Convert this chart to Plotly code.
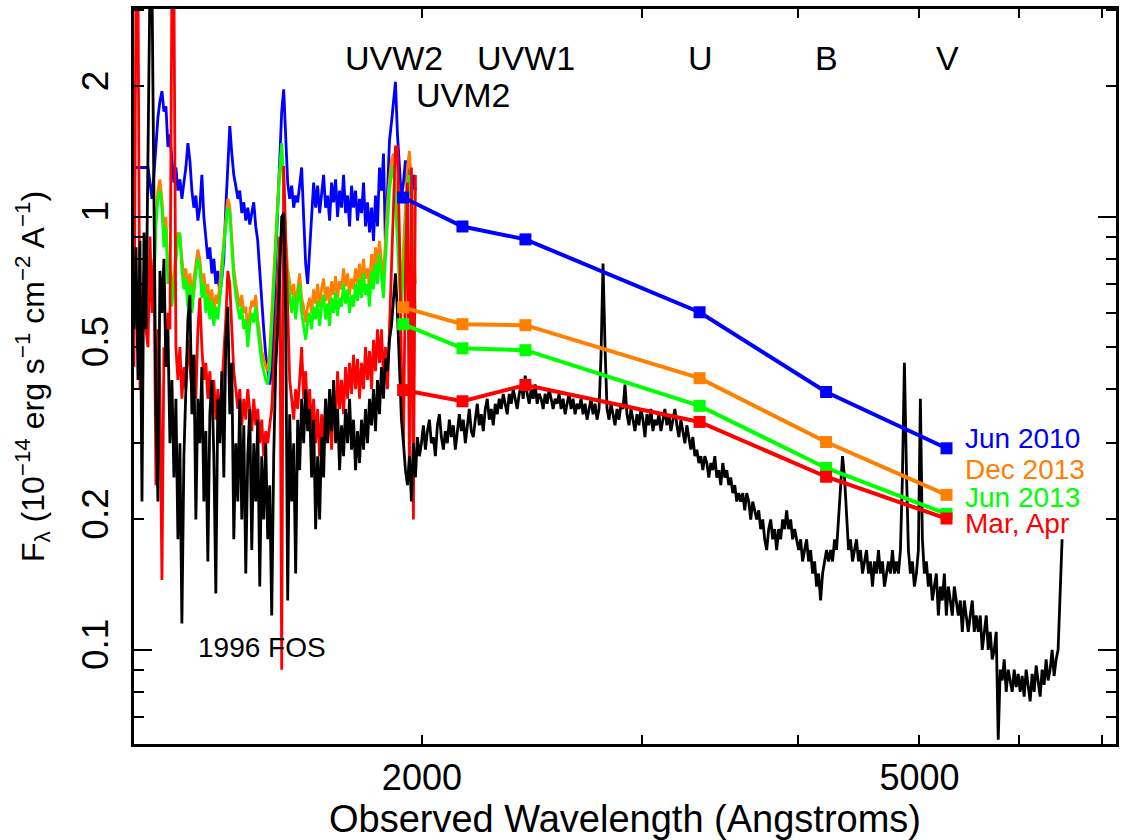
import math
import plotly.graph_objects as go

# ---------------- data ----------------
# Swift/UVOT filter effective wavelengths (Angstrom) and names
filter_names = ["UVW2", "UVM2", "UVW1", "U", "B", "V"]
filter_wave = [1932, 2155, 2420, 3335, 4210, 5255]

# UVOT photometry per epoch (1e-14 erg/s/cm2/A)
phot_jun2010 = [1.108, 0.950, 0.887, 0.602, 0.394, 0.292]
phot_dec2013 = [0.618, 0.565, 0.562, 0.424, 0.302, 0.228]
phot_jun2013 = [0.565, 0.497, 0.492, 0.366, 0.263, 0.206]
phot_marapr = [0.398, 0.375, 0.409, 0.336, 0.251, 0.201]

epoch_labels = ["Jun 2010", "Dec 2013", "Jun 2013", "Mar, Apr"]
epoch_colors = ["#0000ff", "#ff8000", "#00ff00", "#ff0000"]

# Spectra are stored as (first wavelength, flux samples) on a common
# logarithmic dispersion grid.
LOG_STEP = 0.0015962  # dex per sample

# 1996 HST/FOS spectrum, starting at 1177 A
fos_start = 1177
fos_flux = [
    0.55, 0.85, 0.42, 0.88, 0.22, 0.92, 0.55, 1.6, 3.5, 3.5,
    1.1, 0.35, 0.22, 0.75, 0.60, 0.80, 0.45, 0.55, 0.30, 0.42,
    0.25, 0.38, 0.18, 0.30, 0.115, 0.28, 0.40, 0.58, 0.66, 0.35,
    0.48, 0.20, 0.38, 0.30, 0.45, 0.22, 0.32, 0.16, 0.35, 0.42,
    0.28, 0.135, 0.38, 0.30, 0.44, 0.25, 0.52, 0.62, 0.35, 0.46,
    0.18, 0.30, 0.22, 0.38, 0.20, 0.33, 0.15, 0.28, 0.36, 0.17,
    0.30, 0.22, 0.34, 0.14, 0.28, 0.20, 0.30, 0.18, 0.24, 0.12,
    0.28, 0.45, 0.55, 0.75, 1.00, 1.02, 0.60, 0.13, 0.35, 0.22,
    0.30, 0.15, 0.34, 0.26, 0.38, 0.30, 0.40, 0.32, 0.36, 0.25,
    0.34, 0.19, 0.28, 0.20, 0.31, 0.25, 0.38, 0.30, 0.40, 0.32,
    0.42, 0.30, 0.36, 0.26, 0.33, 0.28, 0.36, 0.30, 0.38, 0.29,
    0.34, 0.26, 0.32, 0.27, 0.34, 0.29, 0.36, 0.30, 0.38, 0.33,
    0.40, 0.32, 0.42, 0.35, 0.45, 0.38, 0.47, 0.44, 0.52, 0.56,
    0.64, 0.74, 0.60, 0.45, 0.34, 0.30, 0.26, 0.24, 0.28, 0.22,
    0.30, 0.25, 0.31, 0.28,
    # optical part
    0.30, 0.33, 0.29, 0.32, 0.34, 0.30, 0.31, 0.28, 0.33, 0.35, 0.31, 0.29, 0.32, 0.30, 0.34, 0.31, 0.33, 0.29, 0.32, 0.35,
    0.32, 0.34, 0.30, 0.33, 0.36, 0.32, 0.31, 0.34, 0.37, 0.33, 0.35, 0.32, 0.36, 0.38, 0.34, 0.36, 0.33, 0.37, 0.35, 0.38,
    0.36, 0.39, 0.37, 0.35, 0.39, 0.37, 0.40, 0.38, 0.36, 0.39, 0.41, 0.38, 0.43, 0.39, 0.37, 0.40, 0.38, 0.41, 0.37, 0.39,
    0.38, 0.36, 0.39, 0.37, 0.40, 0.38, 0.36, 0.38, 0.37, 0.39, 0.36, 0.38, 0.35, 0.37, 0.39, 0.36, 0.38, 0.35, 0.37, 0.36,
    0.38, 0.35, 0.37, 0.34, 0.36, 0.38, 0.35, 0.37, 0.34, 0.36, 0.48, 0.78, 0.50, 0.36, 0.34, 0.37, 0.35, 0.33, 0.36, 0.34,
    0.37, 0.36, 0.41, 0.35, 0.33, 0.36, 0.34, 0.32, 0.35, 0.33, 0.36, 0.34, 0.31, 0.35, 0.33, 0.36, 0.32, 0.34, 0.33, 0.35,
    0.32, 0.34, 0.36, 0.33, 0.35, 0.32, 0.34, 0.36, 0.33, 0.31, 0.34, 0.32, 0.30, 0.33, 0.31, 0.29, 0.31, 0.28, 0.29, 0.27,
    0.28, 0.26, 0.28, 0.27, 0.25, 0.27, 0.26, 0.28, 0.25, 0.26, 0.24, 0.27, 0.25, 0.26, 0.24, 0.25, 0.23, 0.24, 0.22, 0.23,
    0.22, 0.23, 0.21, 0.23, 0.22, 0.20, 0.22, 0.21, 0.20, 0.21, 0.19, 0.20, 0.18, 0.17, 0.19, 0.20, 0.18, 0.19, 0.17, 0.19,
    0.18, 0.20, 0.19, 0.21, 0.19, 0.20, 0.18, 0.19, 0.18, 0.17, 0.18, 0.16, 0.17, 0.18, 0.16, 0.17, 0.15, 0.16, 0.14, 0.15,
    0.13, 0.15, 0.16, 0.17, 0.16, 0.17, 0.16, 0.18, 0.17, 0.20, 0.24, 0.28, 0.25, 0.20, 0.17, 0.18, 0.16, 0.17, 0.18, 0.16,
    0.17, 0.15, 0.16, 0.17, 0.15, 0.16, 0.14, 0.16, 0.15, 0.17, 0.15, 0.16, 0.14, 0.15, 0.16, 0.15, 0.17, 0.15, 0.16, 0.15,
    0.17, 0.25, 0.46, 0.26, 0.17, 0.15, 0.16, 0.14, 0.15, 0.17, 0.38, 0.18, 0.15, 0.16, 0.14, 0.15, 0.13, 0.14, 0.15, 0.12,
    0.14, 0.13, 0.15, 0.12, 0.14, 0.13, 0.12, 0.14, 0.13, 0.12, 0.13, 0.11, 0.13, 0.12, 0.11, 0.12, 0.13, 0.11, 0.12, 0.11,
    0.12, 0.10, 0.11, 0.12, 0.10, 0.11, 0.095, 0.10, 0.11, 0.062, 0.09, 0.085, 0.095, 0.08, 0.09, 0.085, 0.08, 0.09, 0.082, 0.088,
    0.08, 0.087, 0.078, 0.09, 0.082, 0.076, 0.088, 0.08, 0.092, 0.084, 0.078, 0.09, 0.083, 0.095, 0.085, 0.09, 0.10, 0.087, 0.095, 0.10,
    0.14, 0.18,
]

# Swift UV grism spectra per epoch
jun2010_start = 1177
jun2010_flux = [
    1.30, 1.30, 1.30, 1.30, 1.30, 1.30, 1.30, 1.30, 1.20, 1.10,
    1.25, 1.45, 1.70, 1.85, 1.95, 1.75, 1.80, 1.45, 1.55, 1.35,
    1.20, 1.30, 1.15, 1.22, 1.10, 1.20, 1.30, 1.48, 1.35, 1.15,
    1.05, 1.12, 0.98, 1.05, 1.25, 1.00, 0.88, 0.80, 0.85, 0.74,
    0.80, 0.70, 0.75, 0.66, 0.72, 0.80, 1.05, 1.35, 1.62, 1.40,
    1.25, 1.18, 1.10, 1.15, 1.02, 1.08, 0.98, 1.05, 0.96, 1.02,
    1.08, 0.95, 0.88, 0.75, 0.62, 0.55, 0.48, 0.44, 0.41, 0.44,
    0.55, 0.80, 1.05, 1.35, 1.75, 1.97, 1.50, 1.20, 1.10, 1.18,
    1.05, 1.12, 1.08, 1.20, 1.30, 1.00, 0.78, 0.70, 0.85, 1.05,
    1.20, 1.05, 1.18, 1.02, 1.15, 1.25, 1.05, 1.12, 0.98, 1.20,
    1.08, 1.22, 1.00, 1.15, 1.05, 1.25, 1.02, 1.12, 0.95, 1.18,
    1.05, 1.15, 0.98, 1.10, 1.02, 1.20, 0.95, 1.08, 0.92, 1.05,
    0.88, 1.12, 0.95, 1.30, 1.15, 1.40, 0.85, 1.10, 1.50, 1.65,
    1.85, 2.05, 1.55, 1.30, 1.10, 1.20, 1.35, 1.15, 1.30, 1.10,
    1.25, 1.15,
]

dec2013_start = 1221
dec2013_flux = [
    0.75, 1.00, 1.15, 1.22, 1.10, 0.92, 1.00, 0.76, 0.78, 0.68,
    0.74, 0.84, 0.92, 0.90, 0.80, 0.72, 0.76, 0.68, 0.74, 0.66,
    0.72, 0.78, 0.84, 0.80, 0.70, 0.74, 0.66, 0.70, 0.63, 0.68,
    0.60, 0.66, 0.63, 0.70, 0.78, 0.90, 1.00, 1.10, 1.06, 0.90,
    0.76, 0.70, 0.66, 0.62, 0.66, 0.60, 0.62, 0.55, 0.60, 0.64,
    0.62, 0.66, 0.58, 0.54, 0.49, 0.47, 0.45, 0.44, 0.49, 0.60,
    0.74, 0.90, 1.10, 1.28, 1.45, 1.15, 0.88, 0.76, 0.70, 0.66,
    0.70, 0.63, 0.68, 0.74, 0.65, 0.62, 0.57, 0.62, 0.65, 0.60,
    0.68, 0.63, 0.70, 0.62, 0.68, 0.72, 0.64, 0.69, 0.62, 0.71,
    0.66, 0.73, 0.65, 0.71, 0.68, 0.76, 0.69, 0.74, 0.66, 0.72,
    0.68, 0.76, 0.70, 0.78, 0.71, 0.80, 0.72, 0.76, 0.68, 0.82,
    0.74, 0.85, 0.77, 0.88, 0.79, 0.72, 0.88, 1.08, 1.22, 1.35,
    1.40, 1.18, 0.92, 0.76, 0.68, 0.82, 1.05, 1.30, 1.42, 1.20,
    0.90, 0.70,
]

jun2013_start = 1221
jun2013_flux = [
    0.70, 0.95, 1.10, 1.15, 1.05, 0.85, 0.95, 0.70, 0.75, 0.62,
    0.70, 0.80, 0.88, 0.92, 0.75, 0.68, 0.72, 0.62, 0.70, 0.60,
    0.68, 0.74, 0.80, 0.76, 0.65, 0.70, 0.60, 0.66, 0.58, 0.64,
    0.56, 0.62, 0.58, 0.65, 0.72, 0.85, 0.95, 1.05, 1.02, 0.85,
    0.72, 0.66, 0.62, 0.58, 0.62, 0.55, 0.58, 0.50, 0.56, 0.60,
    0.57, 0.62, 0.55, 0.50, 0.46, 0.44, 0.42, 0.41, 0.45, 0.55,
    0.70, 0.85, 1.05, 1.25, 1.48, 1.20, 0.85, 0.72, 0.65, 0.60,
    0.66, 0.58, 0.64, 0.70, 0.60, 0.56, 0.52, 0.57, 0.60, 0.55,
    0.62, 0.58, 0.64, 0.56, 0.62, 0.66, 0.58, 0.63, 0.56, 0.65,
    0.60, 0.67, 0.59, 0.65, 0.62, 0.70, 0.63, 0.68, 0.60, 0.66,
    0.62, 0.70, 0.64, 0.72, 0.65, 0.74, 0.66, 0.70, 0.62, 0.75,
    0.68, 0.78, 0.70, 0.82, 0.72, 0.65, 0.80, 1.00, 1.15, 1.25,
    1.32, 1.10, 0.85, 0.70, 0.62, 0.75, 0.95, 1.15, 1.25, 1.05,
    0.80, 0.60,
]

marapr_start = 1177
marapr_flux = [
    0.45, 3.50, 3.50, 0.40, 0.62, 0.75, 0.55, 0.50, 0.90, 0.60,
    0.80, 0.24, 0.55, 0.40, 0.145, 0.50, 0.45, 0.60, 0.55, 3.50,
    3.50, 0.50, 0.42, 0.50, 0.38, 0.45, 0.40, 0.52, 0.45, 0.40,
    0.48, 0.38, 0.55, 0.65, 0.50, 0.42, 0.46, 0.38, 0.44, 0.36,
    0.42, 0.34, 0.40, 0.35, 0.40, 0.47, 0.58, 0.75, 0.70, 0.55,
    0.44, 0.40, 0.36, 0.40, 0.33, 0.38, 0.34, 0.40, 0.36, 0.32,
    0.38, 0.33, 0.36, 0.30, 0.34, 0.28, 0.32, 0.30, 0.33, 0.36,
    0.45, 0.55, 0.70, 0.90, 0.09, 1.31, 0.90, 0.55, 0.42, 0.38,
    0.34, 0.40, 0.36, 0.42, 0.50, 0.38, 0.44, 0.34, 0.40, 0.32,
    0.38, 0.30, 0.36, 0.28, 0.35, 0.30, 0.38, 0.31, 0.36, 0.29,
    0.40, 0.34, 0.44, 0.36, 0.42, 0.35, 0.45, 0.38, 0.46, 0.39,
    0.48, 0.40, 0.47, 0.38, 0.46, 0.40, 0.50, 0.42, 0.49, 0.40,
    0.52, 0.44, 0.55, 0.46, 0.55, 0.42, 0.50, 0.40, 0.55, 0.75,
    1.00, 1.45, 1.45, 0.90, 0.45, 0.30, 0.75, 1.20, 0.25, 1.30,
    0.20, 1.25,
]

x_ticks = [2000, 3000, 4000, 5000, 6000, 7000]
x_ticktext = ["2000", "", "", "5000", "", ""]
y_ticks = [0.1, 0.2, 0.5, 1, 2]
y_ticktext = ["0.1", "0.2", "0.5", "1", "2"]
y_minor = [0.07, 0.08, 0.09, 0.3, 0.4, 0.6, 0.7, 0.8, 0.9, 3]

x_range = [math.log10(1177), math.log10(7180)]
y_range = [math.log10(0.0606), math.log10(3.02)]

FONT = "Liberation Sans, Arial, Helvetica, sans-serif"


def wave_grid(start, n):
    """Wavelengths of n samples on the logarithmic dispersion grid."""
    return [start * 10 ** (LOG_STEP * i) for i in range(n)]


fig = go.Figure()

# UV grism spectra (drawn beneath the FOS spectrum)
uv_spectra = [
    (jun2010_start, jun2010_flux, epoch_colors[0]),
    (dec2013_start, dec2013_flux, epoch_colors[1]),
    (jun2013_start, jun2013_flux, epoch_colors[2]),
    (marapr_start, marapr_flux, epoch_colors[3]),
]
for start, flux, c in uv_spectra:
    fig.add_trace(go.Scatter(x=wave_grid(start, len(flux)), y=flux, mode="lines",
                             line=dict(color=c, width=2.8),
                             showlegend=False, hoverinfo="skip"))

fig.add_trace(go.Scatter(x=wave_grid(fos_start, len(fos_flux)), y=fos_flux, mode="lines",
                         line=dict(color="black", width=2.8), showlegend=False))

# photometry polylines with square markers
for phot, c in zip([phot_jun2010, phot_dec2013, phot_jun2013, phot_marapr], epoch_colors):
    fig.add_trace(go.Scatter(x=filter_wave, y=phot, mode="lines+markers",
                             line=dict(color=c, width=4),
                             marker=dict(symbol="square", size=12, color=c),
                             showlegend=False))

# second y axis overlay for the long decade ticks
fig.add_trace(go.Scatter(x=[filter_wave[0]], y=[phot_jun2010[0]], yaxis="y2",
                         mode="markers", marker=dict(opacity=0), showlegend=False,
                         hoverinfo="skip"))

# filter names along the top (paper y, pixel x offset)
filter_label_pos = {
    "UVW2": (0.933, -9), "UVM2": (0.883, 1), "UVW1": (0.933, 1),
    "U": (0.933, 1), "B": (0.933, 0), "V": (0.933, 1),
}
for name, w in zip(filter_names, filter_wave):
    yp, xs = filter_label_pos[name]
    fig.add_annotation(x=math.log10(w), y=yp, xref="x", yref="paper", text=name,
                       showarrow=False, xshift=xs, yanchor="middle", xanchor="center",
                       font=dict(size=34, color="black", family=FONT))

# epoch labels at the V-band end
legend_y = [0.416, 0.373, 0.336, 0.300]
for lab, c, yp in zip(epoch_labels, epoch_colors, legend_y):
    fig.add_annotation(x=math.log10(5420), y=yp, xref="x", yref="paper", text=lab,
                       showarrow=False, xanchor="left", yanchor="middle",
                       font=dict(size=28, color=c, family=FONT))

fig.add_annotation(x=math.log10(1491), y=0.131, xref="x", yref="paper", text="1996 FOS",
                   showarrow=False, xanchor="center", yanchor="middle",
                   font=dict(size=28, color="black", family=FONT))

axis_common = dict(showline=True, linewidth=3, linecolor="black", mirror="ticks",
                   ticks="inside", tickcolor="black", tickwidth=2, showgrid=False,
                   zeroline=False)

fig.update_layout(
    width=1125, height=840,
    margin=dict(l=134, r=7, t=6, b=96),
    paper_bgcolor="white", plot_bgcolor="white",
    font=dict(family=FONT, color="black", size=36),
    xaxis=dict(type="log", range=x_range, tickvals=x_ticks, ticktext=x_ticktext,
               ticklen=9, tickfont=dict(size=36),
               title=dict(text="Observed Wavelength (Angstroms)", font=dict(size=38), standoff=4),
               **axis_common),
    yaxis=dict(type="log", range=y_range, tickvals=y_ticks, ticktext=y_ticktext,
               ticklen=10, tickangle=-90, tickfont=dict(size=37), ticklabelstandoff=8,
               minor=dict(tickmode="array", tickvals=y_minor, ticks="inside", ticklen=10,
                          tickcolor="black", tickwidth=2),
               title=dict(text="F<sub>λ</sub> (10<sup>−14</sup> erg s<sup>−1</sup> cm<sup>−2</sup> A<sup>−1</sup>)",
                          font=dict(size=32), standoff=22),
               **axis_common),
    yaxis2=dict(type="log", range=y_range, overlaying="y", side="left", tickvals=[0.1, 1],
                ticks="inside", ticklen=18, tickwidth=2, tickcolor="black",
                showticklabels=False, showgrid=False, showline=False, zeroline=False,
                mirror="ticks"),
)

fig.write_html("out.html")
